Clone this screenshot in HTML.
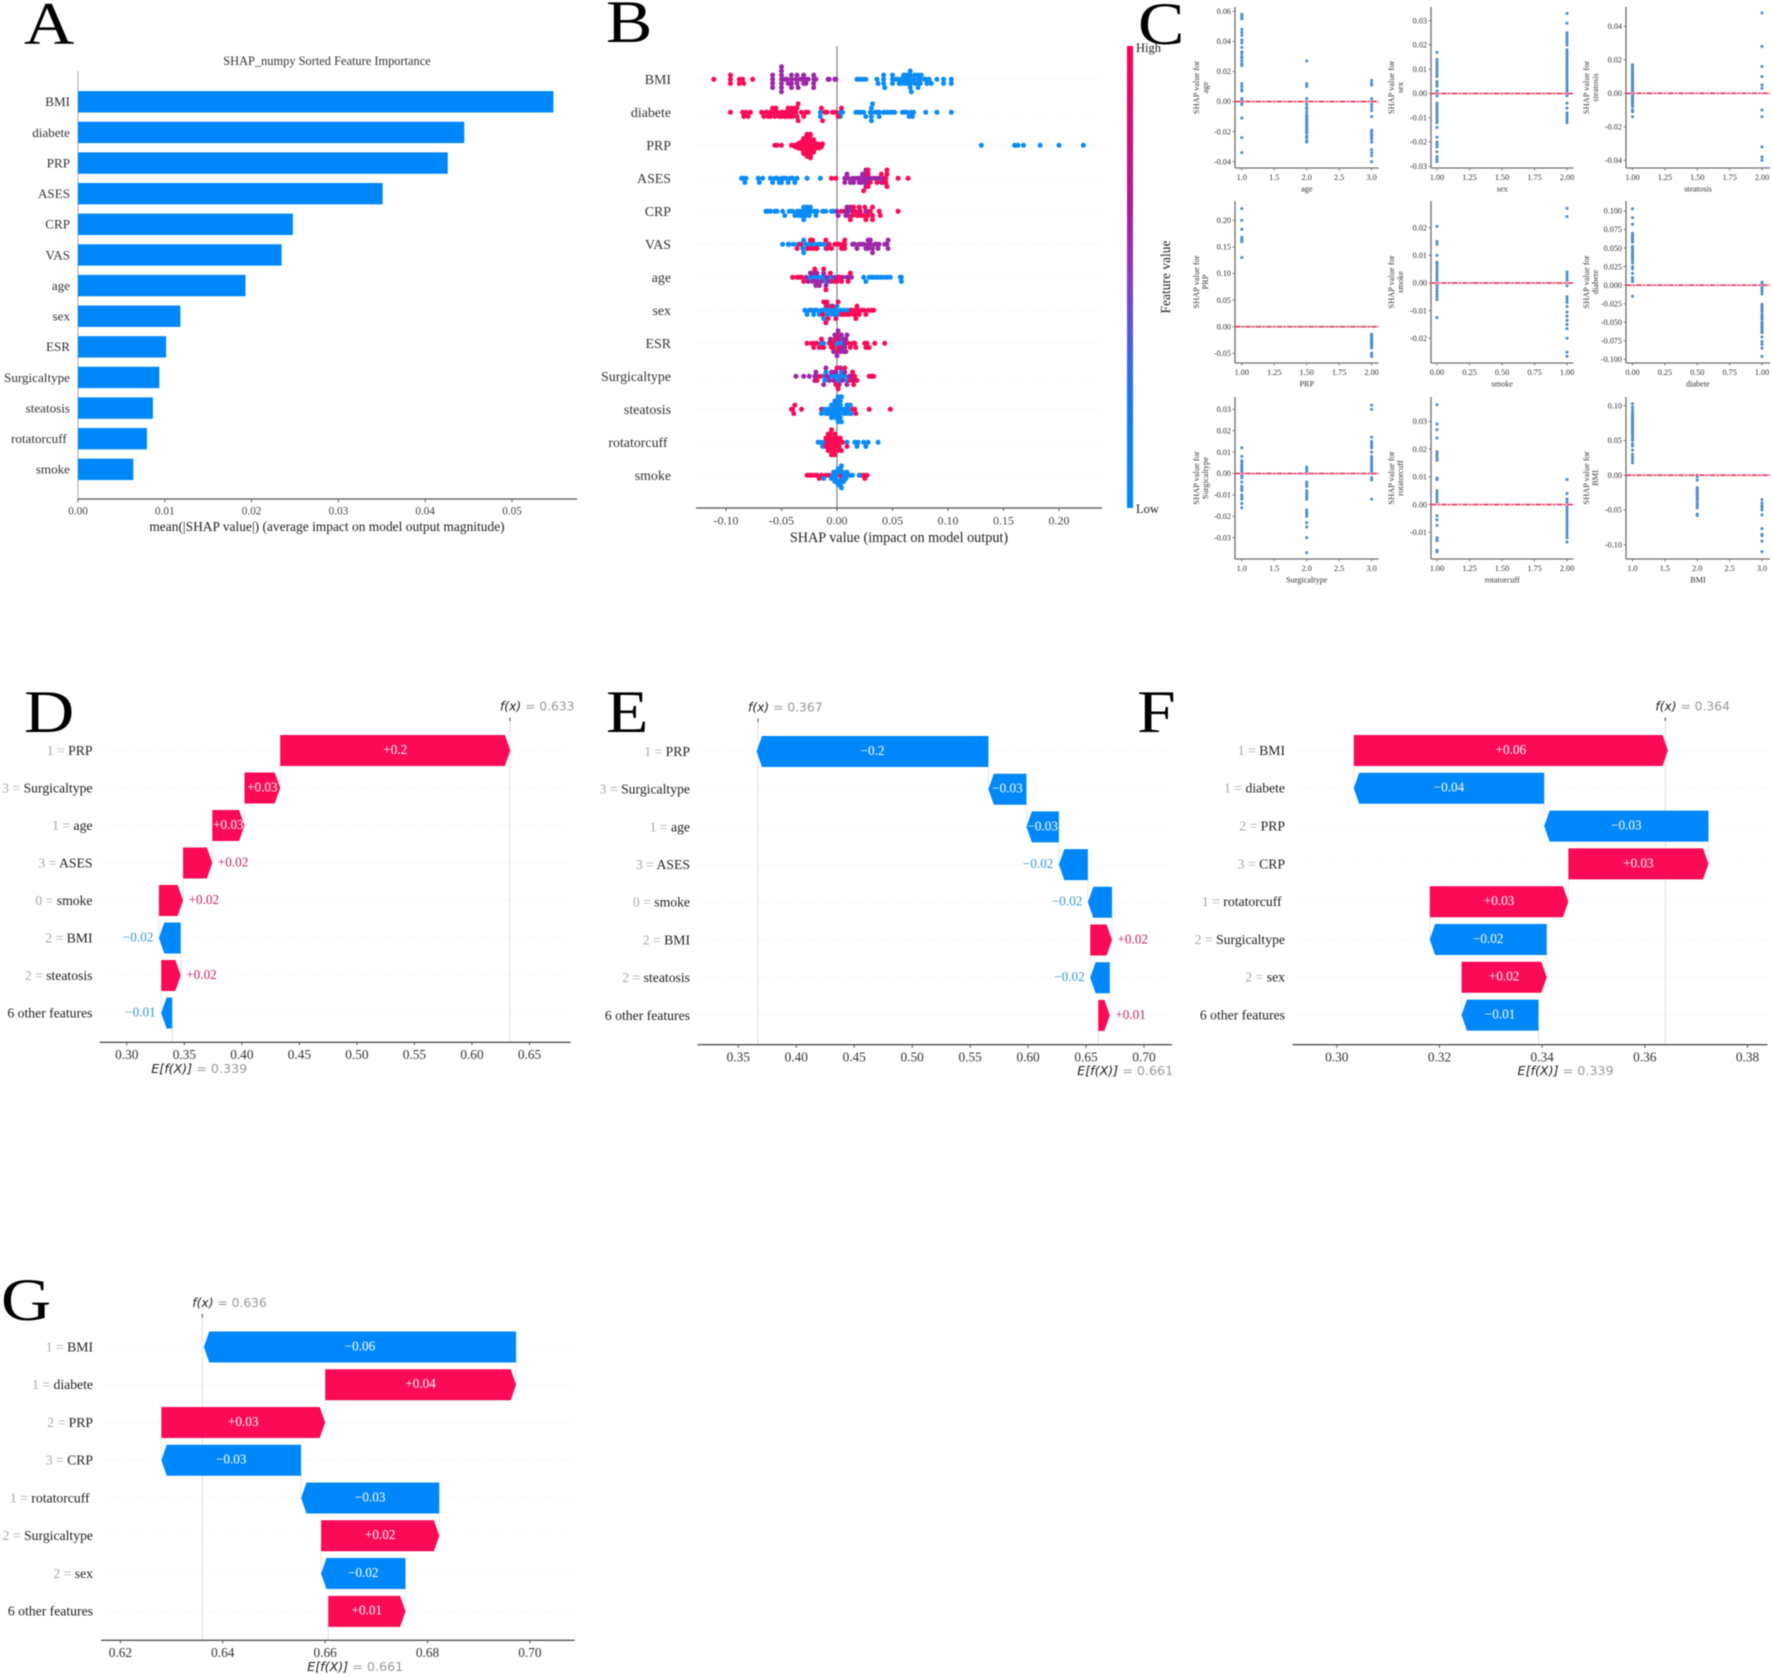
<!DOCTYPE html>
<html lang="en">
<head>
<meta charset="utf-8">
<title>SHAP analysis figure</title>
<style>
html,body{margin:0;padding:0;background:#fff;}
svg{display:block;filter:blur(0.45px);}
text{font-family:"Liberation Serif","DejaVu Serif",serif;}
.letter{font-size:60px;fill:#000;}
.sans{font-family:"DejaVu Sans","Liberation Sans",sans-serif;}
</style>
</head>
<body>
<svg id="fig" xmlns="http://www.w3.org/2000/svg" width="1772" height="1675" viewBox="0 0 1772 1675">
  <defs>
    <linearGradient id="cbar" x1="0" y1="1" x2="0" y2="0">
      <stop offset="0" stop-color="#008bfb"/>
      <stop offset="0.25" stop-color="#1f77ee"/>
      <stop offset="0.5" stop-color="#8a3fc0"/>
      <stop offset="0.65" stop-color="#a81e96"/>
      <stop offset="1" stop-color="#ff0051"/>
    </linearGradient>
  </defs>
  <rect width="1772" height="1675" fill="#fff"/>
  <g id="layer"></g>

  <text class="letter" transform="translate(24,44) scale(1.16,1)">A</text>
  <text class="letter" transform="translate(606,42) scale(1.16,1)">B</text>
  <text class="letter" transform="translate(1138,44) scale(1.16,1)">C</text>
  <text class="letter" transform="translate(24,732) scale(1.16,1)">D</text>
  <text class="letter" transform="translate(606,732) scale(1.16,1)">E</text>
  <text class="letter" transform="translate(1137,732) scale(1.16,1)">F</text>
  <text class="letter" transform="translate(1,1320) scale(1.16,1)">G</text>

  <text x="327" y="65" text-anchor="middle" font-size="12.4" fill="#333">SHAP_numpy Sorted Feature Importance</text>
  <text x="327" y="531" text-anchor="middle" font-size="13.45" fill="#222">mean(|SHAP value|) (average impact on model output magnitude)</text>
  <text x="899" y="542" text-anchor="middle" font-size="14.2" fill="#222">SHAP value (impact on model output)</text>

  <rect x="1127" y="46" width="6" height="462" fill="url(#cbar)"/>
  <text x="1136" y="52" font-size="12.5" fill="#222">High</text>
  <text x="1136" y="513" font-size="12.5" fill="#222">Low</text>
  <text transform="translate(1170,277) rotate(-90)" text-anchor="middle" font-size="13.5" fill="#222">Feature value</text>
</svg>

<script>
/* ---------- Panel A data ---------- */
const barFeatures = ["BMI","diabete","PRP","ASES","CRP","VAS","age","sex","ESR","Surgicaltype","steatosis","rotatorcuff\u00a0","smoke"];
const barValues = [0.05477,0.0445,0.0426,0.0351,0.02476,0.02346,0.0193,0.0118,0.01015,0.00937,0.00863,0.00794,0.00637];
const barTicks = ["0.00","0.01","0.02","0.03","0.04","0.05"];

/* ---------- Panel B data ---------- */
const swarmFeatures = ["BMI","diabete","PRP","ASES","CRP","VAS","age","sex","ESR","Surgicaltype","steatosis","rotatorcuff\u00a0","smoke"];
const swarmTicks = ["-0.10","-0.05","0.00","0.05","0.10","0.15","0.20"];
const bmiRed = [-0.111,-0.096,-0.096,-0.096,-0.088,-0.088,-0.085,-0.084,-0.076];
const bmiPurple = [-0.058,-0.058,-0.058,-0.058,-0.05,-0.05,-0.05,-0.05,-0.05,-0.05,-0.05,-0.047,-0.045,-0.044,-0.041,-0.041,-0.041,-0.041,-0.037,-0.036,-0.036,-0.035,-0.033,-0.031,-0.03,-0.03,-0.028,-0.028,-0.026,-0.021,-0.021,-0.021,-0.021,-0.019,-0.008,-0.007,-0.002,-0.001];
const bmiBlue = [0.018,0.02,0.023,0.026,0.036,0.037,0.042,0.042,0.042,0.043,0.05,0.05,0.05,0.053,0.055,0.056,0.058,0.058,0.06,0.061,0.061,0.062,0.064,0.064,0.064,0.066,0.066,0.066,0.066,0.066,0.067,0.069,0.07,0.07,0.073,0.073,0.073,0.073,0.075,0.075,0.076,0.079,0.08,0.081,0.083,0.085,0.09,0.096,0.096,0.103,0.103];
const diabeteBlue = [-0.015,-0.015,0.003,0.003,0.005,0.017,0.019,0.021,0.024,0.026,0.03,0.031,0.031,0.031,0.032,0.034,0.036,0.038,0.038,0.042,0.045,0.048,0.05,0.052,0.059,0.061,0.063,0.065,0.067,0.068,0.069,0.08,0.09,0.103];
const diabeteRed = [-0.096,-0.085,-0.084,-0.082,-0.08,-0.078,-0.068,-0.066,-0.064,-0.063,-0.062,-0.06,-0.06,-0.058,-0.057,-0.056,-0.055,-0.054,-0.052,-0.05,-0.05,-0.048,-0.047,-0.046,-0.045,-0.044,-0.043,-0.042,-0.041,-0.04,-0.04,-0.038,-0.037,-0.036,-0.036,-0.035,-0.035,-0.032,-0.03,-0.028,-0.026,-0.014,-0.013,-0.011,-0.009,-0.004,-0.001,0.001,0.004];
const prpRed = [-0.056,-0.054,-0.05,-0.041,-0.039,-0.038,-0.037,-0.036,-0.035,-0.035,-0.034,-0.034,-0.033,-0.033,-0.033,-0.032,-0.032,-0.032,-0.031,-0.031,-0.031,-0.031,-0.03,-0.03,-0.03,-0.03,-0.03,-0.029,-0.029,-0.029,-0.029,-0.029,-0.028,-0.028,-0.028,-0.028,-0.028,-0.028,-0.027,-0.027,-0.027,-0.027,-0.027,-0.027,-0.026,-0.026,-0.026,-0.026,-0.026,-0.026,-0.026,-0.025,-0.025,-0.025,-0.025,-0.025,-0.025,-0.024,-0.024,-0.024,-0.024,-0.024,-0.023,-0.023,-0.023,-0.023,-0.022,-0.022,-0.022,-0.021,-0.021,-0.021,-0.02,-0.02,-0.019,-0.019,-0.018,-0.018,-0.017,-0.016,-0.015,-0.014,-0.013];
const prpBlue = [0.13,0.16,0.163,0.168,0.183,0.2,0.222];
const asesBlue = [-0.086,-0.085,-0.083,-0.082,-0.071,-0.07,-0.067,-0.06,-0.058,-0.056,-0.054,-0.052,-0.05,-0.05,-0.048,-0.046,-0.044,-0.042,-0.04,-0.038,-0.036,-0.027,-0.015];
const asesPurple = [0.007,0.007,0.009,0.01,0.012,0.014,0.015,0.017,0.019,0.02,0.021,0.022,0.023,0.024,0.025,0.025,0.026,0.026,0.027,0.028,0.03,0.033,0.036,0.038,0.04,0.042];
const asesRed = [-0.005,-0.001,0.024,0.028,0.028,0.028,0.03,0.036,0.04,0.042,0.044,0.044,0.045,0.045,0.045,0.055,0.064];
const crpBlue = [-0.064,-0.062,-0.06,-0.056,-0.054,-0.049,-0.047,-0.043,-0.04,-0.038,-0.036,-0.035,-0.034,-0.033,-0.032,-0.031,-0.03,-0.03,-0.029,-0.028,-0.027,-0.026,-0.025,-0.024,-0.023,-0.02,-0.019,-0.018,-0.013,-0.01,-0.005,-0.003];
const crpPurple = [0,0.001,0.007,0.008,0.009,0.01,0.01,0.012,0.014,0.02,0.026,0.027];
const crpRed = [0.004,0.012,0.014,0.015,0.016,0.018,0.019,0.02,0.021,0.022,0.024,0.025,0.026,0.028,0.03,0.032,0.032,0.032,0.038,0.039,0.055];
const vasBlue = [-0.049,-0.044,-0.043,-0.039,-0.035,-0.032,-0.031,-0.03,-0.03,-0.028,-0.027,-0.025,-0.022,-0.02,-0.017,-0.015,-0.012,-0.01,-0.008];
const vasRed = [-0.036,-0.033,-0.026,-0.024,-0.023,-0.022,-0.02,-0.018,-0.01,-0.009,-0.007,-0.005,-0.002,0,0.002,0.004,0.005,0.007,0.007,0.007];
const vasPurple = [0.014,0.016,0.018,0.02,0.022,0.024,0.026,0.028,0.028,0.03,0.032,0.034,0.036,0.038,0.028,0.03,0.032,0.037,0.043,0.045,0.046,0.046];
const ageBlue = [-0.024,-0.022,-0.02,-0.017,-0.014,-0.012,-0.01,-0.005,0.024,0.026,0.029,0.031,0.033,0.036,0.039,0.042,0.045,0.048,0.057,0.058,0.058];
const agePurple = [-0.028,-0.026,-0.024,-0.022,-0.022,-0.02,-0.019,-0.019,-0.018,-0.018,-0.016,-0.014,-0.012,-0.01,-0.009,-0.008,-0.005,-0.002,0.001,0.005,0.009,0.011,0.013];
const ageRed = [-0.04,-0.036,-0.034,-0.032,-0.03,-0.02,-0.012,-0.01,-0.006,-0.002,0,0.002,0.004,0.01,0.012];
const sexBlue = [-0.029,-0.027,-0.025,-0.023,-0.021,-0.02,-0.018,-0.016,-0.014,-0.012,-0.012,-0.01,-0.008,-0.006,-0.005,-0.003,-0.001,0.001,0.003,0.006,0.009,0.012,-0.012,-0.009,-0.006,-0.002,0];
const sexRed = [-0.013,-0.012,-0.01,-0.009,-0.008,-0.004,-0.001,0.001,0.004,0.006,0.009,0.011,0.013,0.015,0.016,0.017,0.018,0.019,0.02,0.022,0.024,0.026,0.028,0.031,0.033,-0.009,0.017];
const esrBlue = [-0.014,-0.013,-0.012,-0.001,0.001,0.003,0.005];
const esrRed = [-0.027,-0.023,-0.021,-0.02,-0.018,-0.016,-0.014,-0.012,-0.007,-0.005,-0.004,-0.003,-0.002,0.002,0.001,0,0.001,0.01,0.012,0.014,0.016,0.017,0.025,0.026,0.027,0.029,0.034,0.043];
const esrPurple = [-0.006,-0.003,-0.002,0,0.001,0.002,0.003,0.004,0.005,0.006,0.006,0.007,0.007,0.008,0.008,0.009];
const surgBlue = [-0.012,-0.011,-0.01,-0.006,-0.003,0,0.001,0.002,0.003,0.004,0.005,0.007,0.009];
const surgPurple = [-0.037,-0.03,-0.025,-0.02,-0.02,-0.019,-0.018,-0.012,-0.01,-0.009,-0.007,-0.005,-0.003,-0.002,-0.001,0.002,0.003,0.005,0.007,0.009,0.011,0.013,0.015];
const surgRed = [-0.018,-0.015,-0.001,0,0.001,0.007,0.012,0.014,0.015,0.016,0.018,0.029,0.031,0.033];
const steatRed = [-0.041,-0.04,-0.039,-0.038,-0.032,-0.014,0.014,0.016,0.017,0.029,0.048];
const steatBlue = [-0.014,-0.012,-0.01,-0.009,-0.008,-0.007,-0.006,-0.005,-0.005,-0.004,-0.003,-0.003,-0.002,-0.002,-0.001,-0.001,0,0,0,0.001,0.001,0.002,0.002,0.003,0.003,0.003,0.004,0.004,0.005,0.006,0.007,0.008,0.009,0.01,0.011,0.012,0.013];
const rotBlue = [-0.017,-0.015,-0.013,-0.012,0.009,0.016,0.018,0.019,0.024,0.026,0.028,0.037];
const rotRed = [-0.01,-0.01,-0.009,-0.009,-0.009,-0.008,-0.008,-0.007,-0.007,-0.006,-0.006,-0.006,-0.005,-0.005,-0.004,-0.004,-0.003,-0.003,-0.002,-0.002,-0.001,-0.001,0,0.001,0.002,0.002,0.003,0.004,0.005,0.009];
const smokeRed = [-0.027,-0.025,-0.023,-0.02,-0.018,-0.016,-0.014,-0.01,-0.007,0.003,0.004,0.006,0.021,0.024,0.025,0.027];
const smokeBlue = [-0.012,-0.005,-0.004,-0.003,-0.003,-0.002,-0.001,-0.001,0,0,0.001,0.001,0.002,0.002,0.003,0.003,0.004,0.004,0.005,0.005,0.006,0.007,0.008,0.009,0.011,0.014,0.02];

/* ---------- Panel C data ---------- */
const depAgeVals = [[0.058,0.057,0.056,0.055,0.048,0.046,0.044,0.041,0.039,0.036,0.033,0.032,0.03,0.029,0.027,0.025,0.024,0.012,0.01,0.008,0.007,0.002,0.001,0,-0.001,-0.002,-0.011,-0.024,-0.034],[0.027,0.012,0.011,0.01,0.002,0,-0.002,-0.004,-0.005,-0.007,-0.009,-0.01,-0.011,-0.012,-0.013,-0.014,-0.015,-0.016,-0.017,-0.018,-0.019,-0.02,-0.021,-0.023,-0.024,-0.026,-0.027],[0.014,0.012,0.011,0.002,0,-0.002,-0.004,-0.006,-0.01,-0.019,-0.02,-0.021,-0.022,-0.023,-0.024,-0.025,-0.027,-0.032,-0.034,-0.036,-0.04]];
const depSexVals = [[0.017,0.014,0.013,0.012,0.011,0.01,0.009,0.008,0.007,0.005,0.004,0.003,0.001,0,-0.001,-0.004,-0.005,-0.006,-0.007,-0.008,-0.009,-0.01,-0.011,-0.012,-0.014,-0.018,-0.02,-0.021,-0.022,-0.024,-0.026,-0.027,-0.028],[0.033,0.029,0.025,0.024,0.023,0.022,0.021,0.02,0.018,0.017,0.016,0.015,0.014,0.013,0.012,0.011,0.01,0.009,0.008,0.007,0.006,0.005,0.004,0.003,0.002,0.001,0,-0.001,-0.004,-0.006,-0.008,-0.009,-0.01,-0.011,-0.012]];
const depSteatVals = [[0.017,0.016,0.015,0.014,0.013,0.012,0.011,0.01,0.009,0.008,0.007,0.006,0.005,0.004,0.003,0.002,0.001,0,-0.001,-0.002,-0.003,-0.004,-0.005,-0.006,-0.007,-0.008,-0.01,-0.011,-0.014],[0.048,0.028,0.016,0.01,0.005,0.003,-0.01,-0.014,-0.032,-0.038,-0.04]];
const depPrpVals = [[0.222,0.2,0.183,0.168,0.165,0.162,0.16,0.13],[-0.014,-0.016,-0.018,-0.02,-0.022,-0.024,-0.025,-0.026,-0.027,-0.028,-0.029,-0.03,-0.031,-0.032,-0.033,-0.034,-0.035,-0.036,-0.038,-0.04,-0.05,-0.053,-0.056]];
const depSmokeVals = [[0.0205,0.015,0.014,0.01,0.0075,0.007,0.006,0.005,0.004,0.003,0.002,0.001,0,-0.001,-0.002,-0.003,-0.004,-0.005,-0.006,-0.0125],[0.027,0.024,0.004,0.003,0.002,0.001,-0.001,-0.005,-0.006,-0.007,-0.0085,-0.0105,-0.012,-0.0135,-0.015,-0.0165,-0.02,-0.025,-0.0265]];
const depDiabeteVals = [[0.103,0.091,0.082,0.07,0.068,0.066,0.064,0.062,0.06,0.058,0.052,0.05,0.048,0.046,0.044,0.042,0.04,0.038,0.036,0.034,0.03,0.025,0.022,0.016,0.01,0.007,0.005,-0.015],[0.004,0.002,0,-0.003,-0.005,-0.008,-0.012,-0.026,-0.028,-0.03,-0.032,-0.034,-0.036,-0.04,-0.042,-0.044,-0.046,-0.05,-0.052,-0.054,-0.056,-0.058,-0.06,-0.062,-0.064,-0.07,-0.076,-0.08,-0.085,-0.096]];
const depSurgVals = [[0.012,0.008,0.006,0.005,0.004,0.003,0.002,0.001,0,-0.001,-0.002,-0.004,-0.006,-0.007,-0.008,-0.01,-0.011,-0.012,-0.014,-0.016],[0.003,0.002,0.001,0,-0.004,-0.005,-0.006,-0.008,-0.009,-0.01,-0.011,-0.012,-0.017,-0.018,-0.019,-0.02,-0.023,-0.025,-0.03,-0.037],[0.032,0.03,0.017,0.015,0.014,0.013,0.012,0.01,0.008,0.007,0.006,0.005,0.004,0.003,0.002,0.001,0,-0.002,-0.003,-0.012]];
const depRotVals = [[0.036,0.029,0.027,0.024,0.019,0.018,0.017,0.016,0.0095,0.009,0.005,0.004,0.003,0.002,0.001,-0.004,-0.0055,-0.0075,-0.012,-0.013,-0.0165,-0.017],[0.009,0.004,0.002,0.001,0,-0.001,-0.002,-0.003,-0.004,-0.005,-0.006,-0.007,-0.008,-0.009,-0.01,-0.011,-0.012,-0.0135]];
const depBmiVals = [[0.103,0.098,0.094,0.09,0.088,0.086,0.084,0.082,0.08,0.078,0.076,0.074,0.072,0.07,0.068,0.066,0.064,0.062,0.06,0.058,0.055,0.052,0.05,0.045,0.042,0.036,0.03,0.026,0.022,0.018],[0,-0.002,-0.007,-0.018,-0.02,-0.022,-0.024,-0.026,-0.028,-0.03,-0.032,-0.034,-0.036,-0.04,-0.042,-0.045,-0.047,-0.056,-0.058],[-0.035,-0.04,-0.044,-0.046,-0.05,-0.057,-0.077,-0.085,-0.087,-0.095,-0.11]];
const catsThree = [1,2,3];
const catsTwo = [1,2];
const catsBinary = [0,1];
const ticksThree = ["1.0","1.5","2.0","2.5","3.0"];
const ticksTwo = ["1.00","1.25","1.50","1.75","2.00"];
const ticksBinary = ["0.00","0.25","0.50","0.75","1.00"];
const depAgeY = ["0.06","0.04","0.02","0.00","-0.02","-0.04"];
const depSexY = ["0.03","0.02","0.01","0.00","-0.01","-0.02","-0.03"];
const depSteatY = ["0.04","0.02","0.00","-0.02","-0.04"];
const depPrpY = ["0.20","0.15","0.10","0.05","0.00","-0.05"];
const depSmokeY = ["0.02","0.01","0.00","-0.01","-0.02"];
const depDiabeteY = ["0.100","0.075","0.050","0.025","0.000","-0.025","-0.050","-0.075","-0.100"];
const depSurgY = ["0.03","0.02","0.01","0.00","-0.01","-0.02","-0.03"];
const depRotY = ["0.03","0.02","0.01","0.00","-0.01"];
const depBmiY = ["0.10","0.05","0.00","-0.05","-0.10"];

/* ---------- Waterfall data ---------- */
const dFeatVals = ["1","3","1","3","0","2","2",""];
const dFeatures = ["PRP","Surgicaltype","age","ASES","smoke","BMI","steatosis","6 other features"];
const dShap = [0.2,0.031,0.028,0.0254,0.021,-0.019,0.017,-0.0096];
const dPrinted = ["+0.2","+0.03","+0.03","+0.02","+0.02","\u22120.02","+0.02","\u22120.01"];
const dTicks = ["0.30","0.35","0.40","0.45","0.50","0.55","0.60","0.65"];
const dBase = 0.3395;
const dBaseText = "0.339";
const dFx = "0.633";

const eFeatVals = ["1","3","1","3","0","2","2",""];
const eFeatures = ["PRP","Surgicaltype","age","ASES","smoke","BMI","steatosis","6 other features"];
const eShap = [-0.2,-0.0328,-0.028,-0.025,-0.0208,0.0188,-0.0169,0.01];
const ePrinted = ["\u22120.2","\u22120.03","\u22120.03","\u22120.02","\u22120.02","+0.02","\u22120.02","+0.01"];
const eTicks = ["0.35","0.40","0.45","0.50","0.55","0.60","0.65","0.70"];
const eBase = 0.6605;
const eBaseText = "0.661";
const eFx = "0.367";

const fFeatVals = ["1","1","2","3","1","2","2",""];
const fFeatures = ["BMI","diabete","PRP","CRP","rotatorcuff\u00a0","Surgicaltype","sex","6 other features"];
const fShap = [0.0612,-0.0371,-0.032,0.0273,0.027,-0.0228,0.0166,-0.015];
const fPrinted = ["+0.06","\u22120.04","\u22120.03","+0.03","+0.03","\u22120.02","+0.02","\u22120.01"];
const fTicks = ["0.30","0.32","0.34","0.36","0.38"];
const fBase = 0.3393;
const fBaseText = "0.339";
const fFx = "0.364";

const gFeatVals = ["1","1","2","3","1","2","2",""];
const gFeatures = ["BMI","diabete","PRP","CRP","rotatorcuff\u00a0","Surgicaltype","sex","6 other features"];
const gShap = [-0.061,0.0373,0.032,-0.0273,-0.027,0.0231,-0.0165,0.0151];
const gPrinted = ["\u22120.06","+0.04","+0.03","\u22120.03","\u22120.03","+0.02","\u22120.02","+0.01"];
const gTicks = ["0.62","0.64","0.66","0.68","0.70"];
const gBase = 0.6606;
const gBaseText = "0.661";
const gFx = "0.636";

/* ---------- Helpers ---------- */
const RED = "#fb0a55", BLUE = "#0a8bf5", PURPLE = "#9c27a8";
const NS = "http://www.w3.org/2000/svg";
const layer = document.getElementById("layer");
function mk(tag, attrs, parent) {
  const e = document.createElementNS(NS, tag);
  for (const k in attrs) e.setAttribute(k, attrs[k]);
  (parent || layer).appendChild(e);
  return e;
}
function scale(d0, d1, r0, r1) { return v => r0 + (v - d0) * (r1 - r0) / (d1 - d0); }
function line(x1, y1, x2, y2, stroke, w, name, dash) {
  const a = { x1, y1, x2, y2, stroke, "stroke-width": w };
  if (dash) a["stroke-dasharray"] = dash;
  const l = mk("line", a);
  
  
  return l;
}
function label(x, y, str, size, fill, anchor, name) {
  const t = mk("text", { x, y: y + size * 0.33, "font-size": size, fill, "text-anchor": anchor });
  t.textContent = str;
  
  
  return t;
}

/* ---------- Panel A ---------- */
(function () {
  const sx = scale(0, 0.05, 78, 512);
  const y0 = 101.8, step = 30.63, h = 21.4, axisY = 499;
  line(78, 71, 78, axisY, "#b5b5b5", 1.2, "bar-chart-y-axis");
  line(78, axisY, 577, axisY, "#555", 1.3, "bar-chart-x-axis");
  barValues.forEach((v, i) => {
    const cy = y0 + i * step;
    const r = mk("rect", { x: sx(0), y: cy - h / 2, width: sx(v) - sx(0), height: h, fill: "#0088fb" });
    
    
    label(70, cy, barFeatures[i], 13.1, "#333", "end", "bar-feature-label");
  });
  barTicks.forEach(t => {
    const x = sx(parseFloat(t));
    line(x, axisY, x, axisY + 3, "#555", 1, "bar-chart-x-tick");
    label(x, 511, t, 11.2, "#444", "middle", "bar-chart-x-tick-label");
  });
})();

/* ---------- Panel B ---------- */
const swarmRows = [
  [[bmiRed, RED], [bmiPurple, PURPLE], [bmiBlue, BLUE]],
  [[diabeteBlue, BLUE], [diabeteRed, RED]],
  [[prpRed, RED], [prpBlue, BLUE]],
  [[asesBlue, BLUE], [asesPurple, PURPLE], [asesRed, RED]],
  [[crpBlue, BLUE], [crpPurple, PURPLE], [crpRed, RED]],
  [[vasBlue, BLUE], [vasRed, RED], [vasPurple, PURPLE]],
  [[ageBlue, BLUE], [agePurple, PURPLE], [ageRed, RED]],
  [[sexBlue, BLUE], [sexRed, RED]],
  [[esrBlue, BLUE], [esrRed, RED], [esrPurple, PURPLE]],
  [[surgBlue, BLUE], [surgPurple, PURPLE], [surgRed, RED]],
  [[steatRed, RED], [steatBlue, BLUE]],
  [[rotBlue, BLUE], [rotRed, RED]],
  [[smokeRed, RED], [smokeBlue, BLUE]]
];
(function () {
  const sx = scale(0, 0.05, 837, 892.5);
  const y0 = 79.3, step = 33, axisY = 508, binW = 0.0028;
  swarmRows.forEach((groups, i) => {
    line(696, y0 + i * step, 1102, y0 + i * step, "#efefef", 1, "beeswarm-row-guide", "1 2");
  });
  line(sx(0), 46, sx(0), axisY, "#8a8a8a", 1.3, "beeswarm-zero-line");
  line(696, axisY, 1102, axisY, "#555", 1.3, "beeswarm-x-axis");
  swarmRows.forEach((groups, i) => {
    const cy = y0 + i * step;
    label(671, cy, swarmFeatures[i], 13.9, "#333", "end", "beeswarm-feature-label");
    const bins = {};
    const pts = [];
    groups.forEach(g => g[0].forEach(v => {
      const b = Math.round(v / binW);
      const k = bins[b] || 0;
      bins[b] = k + 1;
      const off = ((k + 1) >> 1) * (k % 2 ? 1 : -1);
      pts.push({ v, off, color: g[1] });
    }));
    const maxOff = Math.max(1, ...pts.map(p => Math.abs(p.off)));
    const s = Math.min(4.2, 12.5 / maxOff);
    pts.forEach(p => {
      const c = mk("circle", { cx: sx(p.v), cy: cy + p.off * s, r: 2.5, fill: p.color });
      
      
    });
  });
  swarmTicks.forEach(t => {
    const x = sx(parseFloat(t));
    line(x, axisY, x, axisY + 3, "#555", 1, "beeswarm-x-tick");
    label(x, 520.5, t, 12, "#444", "middle", "beeswarm-x-tick-label");
  });
})();

/* ---------- Panel C ---------- */
const depCols = [
  { l: 1235, r: 1378.6, a: 1241.8, b: 1371.6, yl: 1196 },
  { l: 1431, r: 1573.5, a: 1437, b: 1567, yl: 1391 },
  { l: 1626, r: 1770, a: 1632.5, b: 1762, yl: 1586 }
];
const depRows = [
  { t: 7, b: 168, c: 87.5 },
  { t: 201, b: 363, c: 282 },
  { t: 397, b: 559, c: 478 }
];
function dep(feature, col, row, cats, vals, xTicks, yTicks, v1, p1, v2, p2) {
  const C = depCols[col], R = depRows[row];
  const x0 = parseFloat(xTicks[0]), x1 = parseFloat(xTicks[xTicks.length - 1]);
  const sx = scale(x0, x1, C.a, C.b), sy = scale(v1, v2, p1, p2);
  line(C.l, R.t, C.l, R.b, "#707070", 1.3, "dependence-y-axis");
  line(C.l, R.b, C.r, R.b, "#707070", 1.3, "dependence-x-axis");
  yTicks.forEach(t => {
    const y = sy(parseFloat(t));
    line(C.l - 2.5, y, C.l, y, "#666", 0.8, "dependence-y-tick");
    label(C.l - 4, y, t, 8.2, "#333", "end", "dependence-y-tick-label");
  });
  xTicks.forEach(t => {
    const x = sx(parseFloat(t));
    line(x, R.b, x, R.b + 2.5, "#666", 0.8, "dependence-x-tick");
    label(x, R.b + 9.5, t, 8.2, "#333", "middle", "dependence-x-tick-label");
  });
  label((C.l + C.r) / 2, R.b + 21, feature, 8.2, "#333", "middle", "dependence-x-axis-title");
  [["SHAP value for", C.yl], [feature, C.yl + 9]].forEach(p => {
    const t = mk("text", { transform: "translate(" + (p[1] + 3) + "," + R.c + ") rotate(-90)", "font-size": 8.4, fill: "#333", "text-anchor": "middle" });
    t.textContent = p[0];
    
    
  });
  cats.forEach((cat, i) => {
    vals[i].forEach(v => {
      const c = mk("circle", { cx: sx(cat), cy: sy(v), r: 1.55, fill: "#4f8fd0" });
      
      
    });
  });
  line(C.l, sy(0), C.r, sy(0), "#f4a5b6", 1.9, "dependence-zero-band");
  line(C.l, sy(0), C.r, sy(0), "#e0305a", 1.3, "dependence-zero-line", "5 2 1.5 2");
}
dep("age", 0, 0, catsThree, depAgeVals, ticksThree, depAgeY, 0.06, 11.3, -0.04, 161.7);
dep("sex", 1, 0, catsTwo, depSexVals, ticksTwo, depSexY, 0.03, 20.7, -0.03, 166.3);
dep("steatosis", 2, 0, catsTwo, depSteatVals, ticksTwo, depSteatY, 0.04, 26.3, -0.04, 160.3);
dep("PRP", 0, 1, catsTwo, depPrpVals, ticksTwo, depPrpY, 0.2, 220.3, -0.05, 353.3);
dep("smoke", 1, 1, catsBinary, depSmokeVals, ticksBinary, depSmokeY, 0.02, 227.7, -0.02, 338.3);
dep("diabete", 2, 1, catsBinary, depDiabeteVals, ticksBinary, depDiabeteY, 0.1, 211, -0.1, 359.3);
dep("Surgicaltype", 0, 2, catsThree, depSurgVals, ticksThree, depSurgY, 0.03, 409.3, -0.03, 537.7);
dep("rotatorcuff", 1, 2, catsTwo, depRotVals, ticksTwo, depRotY, 0.03, 421.3, -0.01, 532.3);
dep("BMI", 2, 2, catsThree, depBmiVals, ticksThree, depBmiY, 0.1, 405.7, -0.1, 544.7);

/* ---------- Waterfalls ---------- */
function waterfall(p, featVals, features, shap, printed, ticks, base, baseText, fxText) {
  const sx = scale(parseFloat(ticks[0]), parseFloat(ticks[ticks.length - 1]), p.t0, p.t1);
  const h = 31, head = 5.4;
  const fxVal = parseFloat(fxText);
  const rowY = i => p.y0 + i * p.step;
  features.forEach((f, i) => {
    line(p.l, rowY(i), p.r, rowY(i), "#efefef", 1, p.id + "-row-guide", "1 2");
  });
  line(sx(fxVal), p.y0 - 33, sx(fxVal), p.axisY, "#dedede", 1, p.id + "-fx-line");
  line(sx(fxVal), p.y0 - 33, sx(fxVal), p.y0 - 29.5, "#444", 1, p.id + "-fx-top-tick");
  line(sx(base), p.axisY - 16, sx(base), p.axisY, "#dedede", 1, p.id + "-base-line");
  line(p.l, p.axisY, p.r, p.axisY, "#555", 1.4, p.id + "-x-axis");
  let cur = base;
  for (let i = shap.length - 1; i >= 0; i--) {
    const a = cur, b = cur + shap[i];
    cur = b;
    const cy = rowY(i), top = cy - h / 2, bot = cy + h / 2;
    const xa = sx(a), xb = sx(b), w = Math.abs(xb - xa), pos = shap[i] > 0;
    const hd = Math.min(head, w), dir = pos ? 1 : -1;
    const pts = [[xa, top], [xb - dir * hd, top], [xb, cy], [xb - dir * hd, bot], [xa, bot]].map(q => q.join(",")).join(" ");
    if (i > 0) line(xb, cy - h / 2 - p.step + h, xb, cy, "#e6e6e6", 1, p.id + "-connector");
    const poly = mk("polygon", { points: pts, fill: pos ? RED : "#0088fb" });
    
    
    if (w > 32) {
      label((xa + xb) / 2, cy - 1, printed[i], 13.2, "#fff", "middle", p.id + "-bar-value");
    } else if (pos) {
      label(xb + 5.5, cy - 1, printed[i], 13.2, "#c9246f", "start", p.id + "-bar-value");
    } else {
      label(xb - 5.5, cy - 1, printed[i], 13.2, "#3a9ad0", "end", p.id + "-bar-value");
    }
    const t = mk("text", { x: p.labelR, y: cy + 4.4, "font-size": 13.7, "text-anchor": "end" });
    
    
    if (featVals[i]) {
      const s1 = mk("tspan", { fill: "#a8a8a8" }, t);
      s1.textContent = featVals[i] + " = ";
    }
    const s2 = mk("tspan", { fill: "#222" }, t);
    s2.textContent = features[i];
  }
  ticks.forEach(tk => {
    const x = sx(parseFloat(tk));
    line(x, p.axisY, x, p.axisY + 3, "#555", 1, p.id + "-x-tick");
    label(x, p.axisY + 12.5, tk, 13.3, "#333", "middle", p.id + "-x-tick-label");
  });
  const fx = mk("text", { class: "sans", x: sx(fxVal) - 10, y: p.y0 - 44.5 + 4.5, "font-size": 12.3, fill: "#999" });
  
  
  const fx1 = mk("tspan", { fill: "#222", "font-style": "italic" }, fx);
  fx1.textContent = "f(x)";
  const fx2 = mk("tspan", {}, fx);
  fx2.textContent = " = " + fxText;
  const ex = mk("text", { class: "sans", x: sx(base) - 21, y: p.axisY + 26 + 4.5, "font-size": 12.7, fill: "#999" });
  
  
  const ex1 = mk("tspan", { fill: "#222", "font-style": "italic" }, ex);
  ex1.textContent = "E[f(X)]";
  const ex2 = mk("tspan", {}, ex);
  ex2.textContent = " = " + baseText;
}
waterfall({ id: "waterfall-d", t0: 126.8, t1: 529.5, y0: 750.5, step: 37.5, axisY: 1042.3, l: 99.7, r: 570.6, labelR: 92.5 }, dFeatVals, dFeatures, dShap, dPrinted, dTicks, dBase, dBaseText, dFx);
waterfall({ id: "waterfall-e", t0: 738.3, t1: 1144, y0: 751.5, step: 37.7, axisY: 1044.7, l: 697.6, r: 1171.9, labelR: 690 }, eFeatVals, eFeatures, eShap, ePrinted, eTicks, eBase, eBaseText, eFx);
waterfall({ id: "waterfall-f", t0: 1336.8, t1: 1747.5, y0: 750.5, step: 37.8, axisY: 1044.7, l: 1292.6, r: 1767.6, labelR: 1285 }, fFeatVals, fFeatures, fShap, fPrinted, fTicks, fBase, fBaseText, fFx);
waterfall({ id: "waterfall-g", t0: 120.4, t1: 529.9, y0: 1347, step: 37.76, axisY: 1640.3, l: 100.9, r: 574.7, labelR: 93 }, gFeatVals, gFeatures, gShap, gPrinted, gTicks, gBase, gBaseText, gFx);
</script>
</body>
</html>
